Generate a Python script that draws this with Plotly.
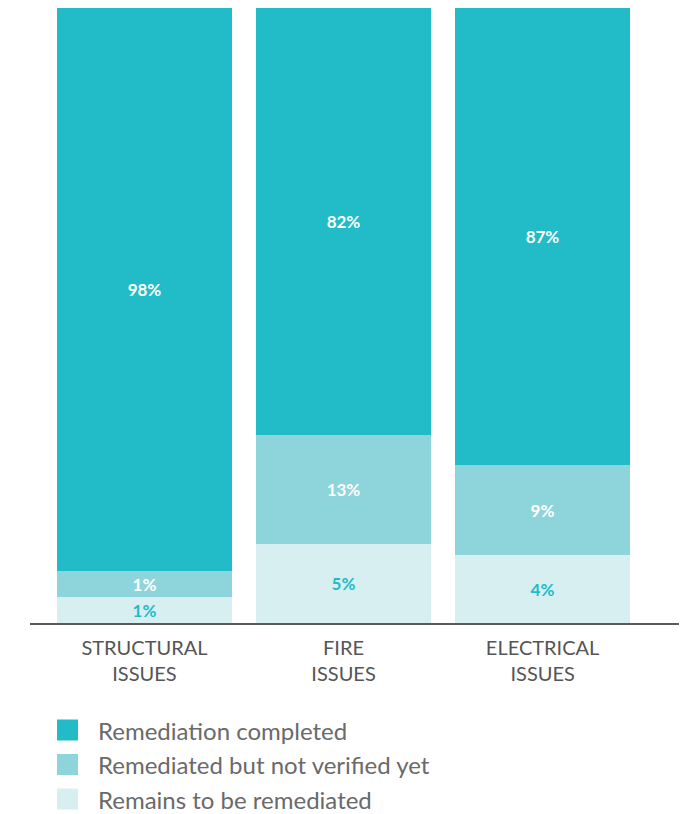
import plotly.graph_objects as go

# ---- data ----
categories = ["STRUCTURAL<br>ISSUES", "FIRE<br>ISSUES", "ELECTRICAL<br>ISSUES"]
series_names = ["Remediation completed", "Remediated but not verified yet", "Remains to be remediated"]
# printed percentage labels
completed_pct = [98, 82, 87]
unverified_pct = [1, 13, 9]
remaining_pct = [1, 5, 4]
# drawn segment heights (share of bar)
completed_drawn = [91.5, 69.4, 74.3]
unverified_drawn = [4.25, 17.75, 14.6]
remaining_drawn = [4.25, 12.85, 11.1]

colors = ["#21BCC8", "#8ED5DB", "#D8EFF1"]
text_colors = ["#FFFFFF", "#FFFFFF", "#21BCC8"]

drawn = [completed_drawn, unverified_drawn, remaining_drawn]
labels = [completed_pct, unverified_pct, remaining_pct]

x = list(range(len(categories)))
FONT = "Lato"

fig = go.Figure()
# bottom segment first
for name, h, lab, col, tcol in reversed(list(zip(series_names, drawn, labels, colors, text_colors))):
    fig.add_trace(go.Bar(
        x=x, y=h, name=name,
        marker=dict(color=col, line=dict(width=0)),
        width=0.88,
        text=[f"{v}%" for v in lab],
        textposition="inside",
        insidetextanchor="middle",
        textangle=0,
        constraintext="none",
        textfont=dict(family=FONT, size=17, color=tcol, weight="bold"),
        hoverinfo="skip",
        showlegend=False,
    ))

# page body offset (browser default margin)
OFF = 8
# plot area in window pixels
plot_left, plot_right = 30, 680
plot_top, plot_bottom = 8, 623
ph = plot_bottom - plot_top
pw = plot_right - plot_left
def py(Y):
    return (plot_bottom - Y) / ph
def px(X):
    return (X - plot_left) / pw

shapes = []
annotations = []
row0, step, sq = 730, 34.5, 21
for i, (name, col) in enumerate(zip(series_names, colors)):
    cy = row0 + i * step
    shapes.append(dict(type="rect", xref="paper", yref="paper",
                       x0=px(57), x1=px(57 + sq), y0=py(cy + sq / 2), y1=py(cy - sq / 2),
                       fillcolor=col, line=dict(width=0)))
    annotations.append(dict(xref="paper", yref="paper", x=px(96), y=py(cy),
                            xanchor="left", yanchor="middle", showarrow=False,
                            text=name, font=dict(family=FONT, size=24, color="#6A6A6A")))

W, H = 687, 814
fig.update_layout(
    barmode="stack",
    width=W, height=H,
    margin=dict(l=plot_left - OFF, r=W - (plot_right - OFF), t=plot_top - OFF,
                b=H - (plot_bottom - OFF)),
    paper_bgcolor="white", plot_bgcolor="white",
    bargap=0,
    shapes=shapes,
    annotations=annotations,
    xaxis=dict(
        tickmode="array", tickvals=x, ticktext=categories,
        range=[-0.575, 2.69],
        showline=True, linecolor="#5A5A5A", linewidth=2,
        ticks="", showgrid=False, zeroline=False,
        tickfont=dict(family=FONT, size=20, color="#555555"),
        ticklabelstandoff=6,
    ),
    yaxis=dict(range=[0, 100], visible=False, showgrid=False, zeroline=False),
    showlegend=False,
)

fig.write_html("out.html")
